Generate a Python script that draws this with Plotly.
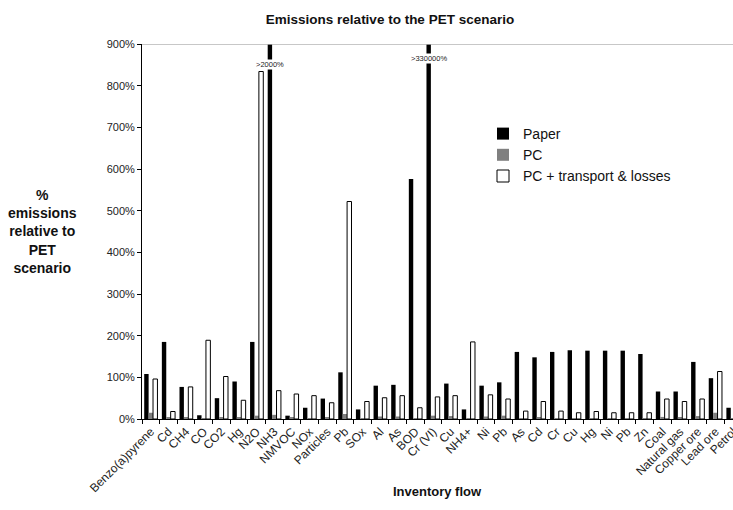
import plotly.graph_objects as go

categories = ["Benzo(a)pyrene", "Cd", "CH4", "CO", "CO2", "Hg", "N2O", "NH3", "NMVOC", "NOx",
              "Particles", "Pb", "SOx", "Al", "As", "BOD", "Cr (VI)", "Cu", "NH4+", "Ni",
              "Pb", "As", "Cd", "Cr", "Cu", "Hg", "Ni", "Pb", "Zn", "Coal",
              "Natural gas", "Copper ore", "Lead ore", "Petrol"]

paper = [108, 185, 77, 9, 50, 90, 185, 2000, 8, 27,
         49, 112, 23, 80, 82, 576, 330000, 85, 23, 80,
         88, 161, 148, 161, 165, 164, 164, 164, 156, 66,
         66, 137, 98, 27]

pc = [15, 4, 4, 2, 4, 4, 8, 10, 3, 2,
      3, 12, 2, 6, 6, 2, 8, 7, 2, 6,
      8, 2, 3, 2, 2, 2, 2, 2, 2, 5,
      3, 7, 15, 2]

pc_transport = [96, 18, 77, 189, 102, 45, 834, 68, 60, 56,
                39, 522, 42, 51, 56, 27, 53, 56, 185, 58,
                48, 19, 42, 19, 15, 18, 15, 15, 15, 48,
                42, 48, 114, 0]

y_ticks = [0, 100, 200, 300, 400, 500, 600, 700, 800, 900]
Y_MAX = 900
overflow_labels = {7: ">2000%", 16: ">330000%"}
overflow_label_y = {7: 851, 16: 866}

idx = list(range(len(categories)))
FONT = "Liberation Sans, Arial, sans-serif"

W, H = 733, 510
L, T = 142, 44
PLOT_W, PLOT_H = W - L, 375
B = H - T - PLOT_H

fig = go.Figure()
fig.add_trace(go.Bar(x=idx, y=paper, name="Paper", marker=dict(color="#000000", line=dict(width=0))))
fig.add_trace(go.Bar(x=idx, y=pc, name="PC", marker=dict(color="#808080", line=dict(width=0))))
fig.add_trace(go.Bar(x=idx, y=pc_transport, name="PC + transport & losses",
                     marker=dict(color="#ffffff", line=dict(color="#000000", width=1))))

for i, txt in overflow_labels.items():
    fig.add_annotation(x=i, y=overflow_label_y[i], xref="x", yref="y", text=txt, showarrow=False,
                       xshift=-4, font=dict(size=7.5, color="#222", family=FONT),
                       bgcolor="#ffffff", borderpad=0)

fig.add_shape(type="line", xref="paper", yref="y", x0=0, x1=1, y0=Y_MAX, y1=Y_MAX,
              line=dict(color="#b4b4b4", width=1.5))

fig.add_annotation(text="<b>%<br>emissions<br>relative to<br>PET<br>scenario</b>",
                   xref="paper", yref="paper",
                   x=-(142 - 42) / PLOT_W, y=(419 - 231) / PLOT_H, xanchor="center", yanchor="middle",
                   showarrow=False, align="center",
                   font=dict(size=14, family=FONT, color="#111"))
fig.add_annotation(text="<b>Inventory flow</b>", xref="paper", yref="paper",
                   x=0.5, y=-(492 - 419) / PLOT_H, xanchor="center", yanchor="middle",
                   showarrow=False, font=dict(size=13, family=FONT, color="#111"))

fig.update_layout(
    width=W, height=H,
    margin=dict(l=L, r=0, t=T, b=B, autoexpand=False),
    paper_bgcolor="#ffffff", plot_bgcolor="#ffffff",
    barmode="group", bargap=0.25, bargroupgap=0,
    title=dict(text="<b>Emissions relative to the PET scenario</b>", x=390 / W, xanchor="center",
               y=1 - 19 / H, yanchor="middle", yref="container",
               font=dict(size=13.5, family=FONT, color="#111")),
    font=dict(family=FONT, color="#222"),
    showlegend=True,
    legend=dict(x=0.577, y=(419 - 118) / PLOT_H, xanchor="left", yanchor="top",
                font=dict(size=14, family=FONT, color="#111"), bgcolor="rgba(0,0,0,0)",
                traceorder="normal"),
    xaxis=dict(range=[-0.5, 33.0], tickmode="array", tickvals=idx, ticktext=categories,
               tickangle=-45, ticks="", showline=True, linecolor="#000", linewidth=1,
               showgrid=False, zeroline=False, automargin=False, ticklabeloverflow="allow",
               tickfont=dict(size=12, family=FONT, color="#222"),
               minor=dict(tickmode="linear", tick0=0.5, dtick=1, ticks="outside", ticklen=4,
                          tickcolor="#000", tickwidth=1, showgrid=False)),
    yaxis=dict(range=[0, Y_MAX], tickmode="array", tickvals=y_ticks,
               ticktext=[f"{v}%" for v in y_ticks], ticks="outside", ticklen=4, tickcolor="#000",
               showline=True, linecolor="#000", linewidth=1, showgrid=False, zeroline=False,
               automargin=False, tickfont=dict(size=11, family=FONT, color="#222")),
)

fig.write_html("out.html", config={"displayModeBar": False},
               post_script="document.body.style.margin='0px';")
